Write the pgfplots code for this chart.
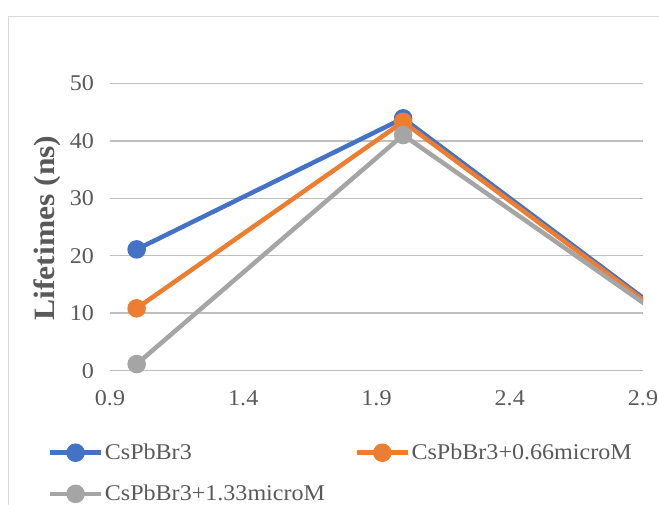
\documentclass[border=0pt]{standalone}
\usepackage{fontspec}
\setmainfont{Liberation Serif}[FakeStretch=1.07]
\usepackage{pgfplots}
\pgfplotsset{compat=1.18}
\definecolor{cblue}{HTML}{4472C4}
\definecolor{corange}{HTML}{ED7D31}
\definecolor{cgray}{HTML}{A5A5A5}
\definecolor{grid}{HTML}{D9D9D9}
\definecolor{tick}{HTML}{595959}
\begin{document}
\begin{tikzpicture}[x=1pt,y=1pt]
\useasboundingbox (0,0) rectangle (659,505);
\draw[grid, line width=1.5pt] (8.5,0) -- (8.5,488.5) -- (659,488.5);
\begin{axis}[
  at={(110pt,134.3pt)}, anchor=south west,
  scale only axis, width=533pt, height=287.4pt,
  xmin=0.9, xmax=2.9, ymin=0, ymax=50,
  xtick={0.9,1.4,1.9,2.4,2.9}, ytick={0,10,20,30,40,50},
  xticklabel style={/pgf/number format/fixed, /pgf/number format/precision=1, /pgf/number format/fixed zerofill, yshift=-16pt},
  yticklabel style={xshift=-12.5pt},
  /pgf/number format/assume math mode=true,
  tick label style={font=\fontsize{22.5}{24}\selectfont, text=tick},
  major tick length=0pt, tick style={draw=none},
  axis line style={draw=none},
  xmajorgrids=false, ymajorgrids=true, grid style={grid, line width=1.5pt},
  ylabel={\textbf{Lifetimes (ns)}},
  ylabel style={at={(axis description cs:-0.118,0.4965)}, anchor=center, rotate=0, font=\fontsize{29.5}{32}\selectfont, text=tick},
  legend columns=2,
  legend cell align=left,
  legend style={draw=none, fill=none, inner sep=0pt, at={(axis description cs:-0.117,-0.255)}, anchor=north west,
    font=\fontsize{22.5}{24}\selectfont, text=tick, row sep=24pt,
    nodes={inner xsep=1.5pt, inner ysep=0pt},
    /tikz/column 2/.style={column sep=28pt}},
  legend image code/.code={\draw[mark repeat=2,mark phase=2] plot coordinates {(0pt,0pt) (25.5pt,0pt) (51pt,0pt)};},
  every axis plot/.append style={line width=4.5pt, mark=*, mark size=7pt, mark options={line width=0pt}},
]
\addplot[cblue, mark options={fill=cblue}] coordinates {(1,21.1) (2,43.9) (3,9.2)};
\addlegendentry{CsPbBr3}
\addplot[corange, mark options={fill=corange}] coordinates {(1,10.85) (2,43.3) (3,8.9)};
\addlegendentry{CsPbBr3+0.66microM}
\addplot[cgray, mark options={fill=cgray}] coordinates {(1,1.15) (2,41.0) (3,8.6)};
\addlegendentry{CsPbBr3+1.33microM}
\end{axis}
\end{tikzpicture}
\end{document}
